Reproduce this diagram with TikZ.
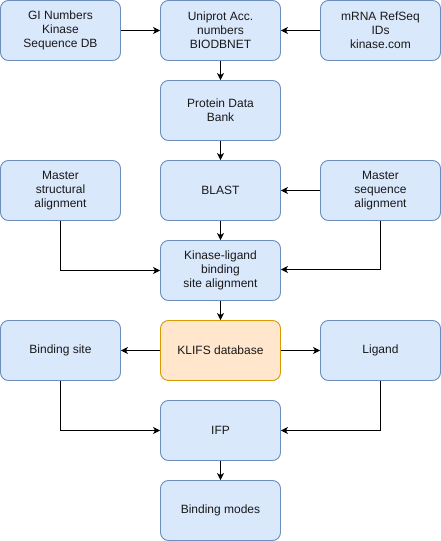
\documentclass[tikz,border=0pt]{standalone}
\usepackage{fontspec}
\setmainfont{Liberation Sans}
\usetikzlibrary{arrows.meta}
\definecolor{bfill}{HTML}{DAE8FC}
\definecolor{bdraw}{HTML}{6C8EBF}
\definecolor{ofill}{HTML}{FFE6CC}
\definecolor{odraw}{HTML}{D79B00}
\begin{document}
\begin{tikzpicture}[x=1pt,y=-1pt,
  box/.style={draw=bdraw,fill=bfill,line width=0.9pt,rounded corners=8pt,minimum width=120pt,minimum height=60pt,inner sep=0pt,align=center,font=\fontsize{12}{14}\selectfont,text=black!90},
  obox/.style={box,draw=odraw,fill=ofill},
  arr/.style={line width=0.9pt,-{Stealth[length=7pt,width=7pt,inset=2pt]}}]
\useasboundingbox (0,0) rectangle (441,541);
\node[box] (gi) at (60.5,30.5) {GI Numbers\\Kinase\\Sequence DB};
\node[box] (uni) at (220.5,30.5) {Uniprot Acc.\\numbers\\BIODBNET};
\node[box] (mrna) at (380.5,30.5) {mRNA RefSeq\\IDs\\kinase.com};
\node[box] (pdb) at (220.5,110.5) {Protein Data\\Bank};
\node[box] (mstr) at (60.5,190.5) {Master\\structural\\alignment};
\node[box] (blast) at (220.5,190.5) {BLAST};
\node[box] (mseq) at (380.5,190.5) {Master\\sequence\\alignment};
\node[box] (kl) at (220.5,270.5) {Kinase-ligand\\binding\\site alignment};
\node[box] (bs) at (60.5,350.5) {Binding site};
\node[obox] (klifs) at (220.5,350.5) {KLIFS database};
\node[box] (lig) at (380.5,350.5) {Ligand};
\node[box] (ifp) at (220.5,430.5) {IFP};
\node[box] (bm) at (220.5,510.5) {Binding modes};
\draw[arr] (gi) -- (uni);
\draw[arr] (mrna) -- (uni);
\draw[arr] (uni) -- (pdb);
\draw[arr] (pdb) -- (blast);
\draw[arr] (mseq) -- (blast);
\draw[arr] (blast) -- (kl);
\draw[arr] (mstr.south) |- (kl.west);
\draw[arr] (mseq.south) |- ([yshift=1pt]kl.east);
\draw[arr] (kl) -- (klifs);
\draw[arr] (klifs) -- (bs);
\draw[arr] (klifs) -- (lig);
\draw[arr] (bs.south) |- (ifp.west);
\draw[arr] (lig.south) |- (ifp.east);
\draw[arr] (ifp) -- (bm);
\end{tikzpicture}
\end{document}
